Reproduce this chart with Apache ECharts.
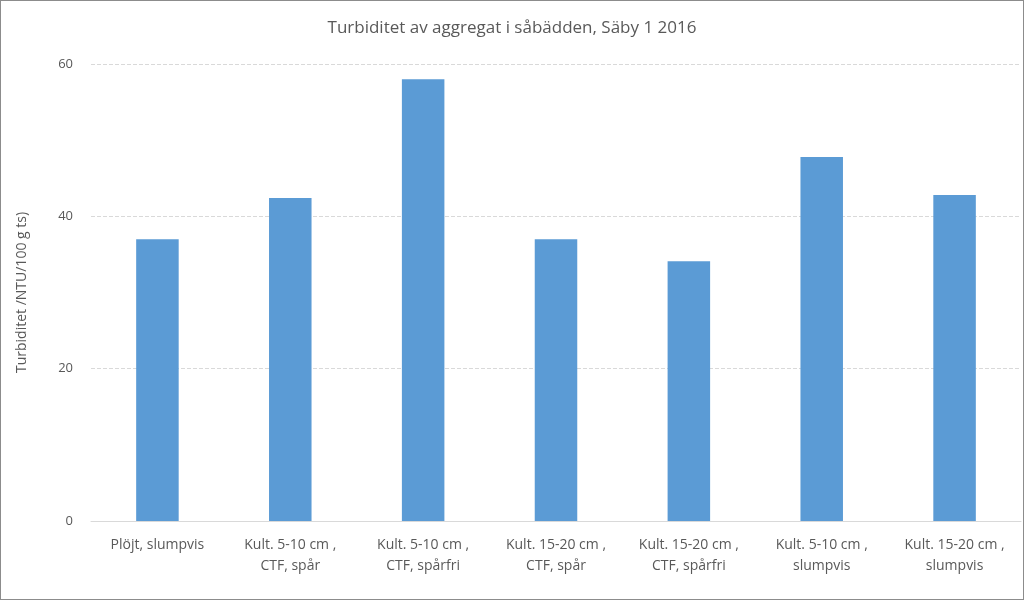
<!DOCTYPE html>
<html>
<head>
<meta charset="utf-8">
<script src="https://cdn.jsdelivr.net/npm/echarts@6/dist/echarts.min.js"></script>
<style>
html,body{margin:0;padding:0;background:#fff;}
#chart{width:1022px;height:598px;border:1px solid #8c8c8c;}
</style>
</head>
<body>
<div id="chart"></div>
<script>
// categories and values
const categories = [
  'Plöjt, slumpvis',
  'Kult. 5-10 cm ,\nCTF, spår',
  'Kult. 5-10 cm ,\nCTF, spårfri',
  'Kult. 15-20 cm ,\nCTF, spår',
  'Kult. 15-20 cm ,\nCTF, spårfri',
  'Kult. 5-10 cm ,\nslumpvis',
  'Kult. 15-20 cm ,\nslumpvis'
];
const turbidity = [37, 42.4, 58, 37, 34.1, 47.8, 42.8];

const chart = echarts.init(document.getElementById('chart'));
chart.setOption({
  animation: false,
  title: {
    text: 'Turbiditet av aggregat i såbädden, Säby 1 2016',
    left: 'center',
    top: 14,
    textStyle: {fontFamily: 'Open Sans', fontSize: 17, fontWeight: 'normal', color: '#595959'}
  },
  grid: {left: 90, right: 2, top: 63, bottom: 78},
  xAxis: {
    type: 'category',
    data: categories,
    axisTick: {show: false},
    axisLine: {lineStyle: {color: '#d9d9d9'}},
    axisLabel: {color: '#595959', fontFamily: 'Open Sans', fontSize: 14, lineHeight: 21, margin: 14, interval: 0}
  },
  yAxis: {
    type: 'value',
    min: 0, max: 60, interval: 20,
    name: 'Turbiditet /NTU/100 g ts)',
    nameLocation: 'middle',
    nameGap: 62,
    nameTextStyle: {color: '#595959', fontFamily: 'Open Sans', fontSize: 14},
    axisLabel: {color: '#595959', fontFamily: 'Open Sans', fontSize: 13, margin: 18},
    splitLine: {lineStyle: {color: '#d9d9d9', type: 'dashed'}}
  },
  series: [{
    type: 'bar',
    data: turbidity,
    barWidth: '32%',
    itemStyle: {color: '#5b9bd5'}
  }]
});
</script>
</body>
</html>
